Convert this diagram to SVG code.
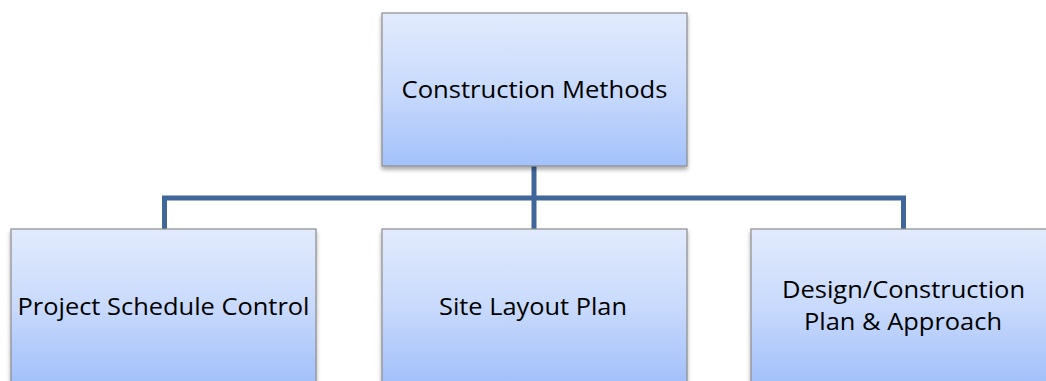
<svg xmlns="http://www.w3.org/2000/svg" width="1046" height="381" viewBox="0 0 1046 381">
  <defs>
    <linearGradient id="boxGrad" x1="0" y1="0" x2="0" y2="1">
      <stop offset="0" stop-color="#e2ebfd"/>
      <stop offset="0.5" stop-color="#c9dafc"/>
      <stop offset="1" stop-color="#a3c1fa"/>
    </linearGradient>
    <linearGradient id="boxGradTall" gradientUnits="userSpaceOnUse" x1="0" y1="229" x2="0" y2="381">
      <stop offset="0" stop-color="#e2ebfd"/>
      <stop offset="0.5" stop-color="#c9dafc"/>
      <stop offset="1" stop-color="#a3c1fa"/>
    </linearGradient>
    <filter id="shadow" x="-10%" y="-10%" width="120%" height="130%">
      <feGaussianBlur in="SourceAlpha" stdDeviation="2"/>
      <feOffset dx="0" dy="3" result="b"/>
      <feComponentTransfer><feFuncA type="linear" slope="0.35"/></feComponentTransfer>
      <feMerge><feMergeNode/><feMergeNode in="SourceGraphic"/></feMerge>
    </filter>
  </defs>
  <style>
    .box { stroke: #8d8d8d; stroke-width: 1.2; filter: url(#shadow); }
    .lbl { font-family: "Open Sans", "Liberation Sans", sans-serif; font-size: 24px; fill: #000; text-anchor: middle; }
    .conn { fill: none; stroke: #41679a; stroke-width: 5; stroke-linejoin: miter; }
  </style>
  <rect width="1046" height="381" fill="#ffffff"/>
  <g id="connectors">
    <path class="conn" d="M534,166 V198"/>
    <path class="conn" d="M164.5,229 V198 H903.5 V229"/>
    <path class="conn" d="M534,198 V229"/>
  </g>
  <g id="node-construction-methods">
    <rect class="box" x="382" y="13" width="305" height="153" fill="url(#boxGrad)"/>
    <text class="lbl" x="534.5" y="98" textLength="266" lengthAdjust="spacingAndGlyphs">Construction Methods</text>
  </g>
  <g id="node-project-schedule-control">
    <rect class="box" x="11" y="229" width="305" height="170" fill="url(#boxGradTall)"/>
    <text class="lbl" x="163.5" y="315" textLength="292" lengthAdjust="spacingAndGlyphs">Project Schedule Control</text>
  </g>
  <g id="node-site-layout-plan">
    <rect class="box" x="382" y="229" width="305" height="170" fill="url(#boxGradTall)"/>
    <text class="lbl" x="533" y="315" textLength="188" lengthAdjust="spacingAndGlyphs">Site Layout Plan</text>
  </g>
  <g id="node-design-construction-plan">
    <rect class="box" x="751" y="229" width="305" height="170" fill="url(#boxGradTall)"/>
    <text class="lbl" x="903.5" y="298" textLength="243" lengthAdjust="spacingAndGlyphs">Design/Construction</text>
    <text class="lbl" x="903" y="330" textLength="198" lengthAdjust="spacingAndGlyphs">Plan &amp; Approach</text>
  </g>
</svg>
